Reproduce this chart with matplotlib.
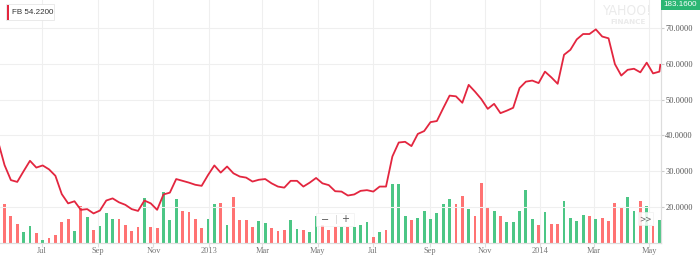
import numpy as np
import pandas as pd
import matplotlib
matplotlib.use('Agg')
import matplotlib.pyplot as plt
from matplotlib.patches import Rectangle

# FB weekly closes, weeks starting Monday 2012-05-14
close = [38.2, 31.7, 27.5, 27.0, 30.0, 32.9, 31.0, 31.6, 30.5, 28.7,
         23.6, 21.0, 21.6, 19.2, 19.4, 18.2, 19.0, 21.8, 22.4, 21.3,
         20.6, 19.4, 18.9, 21.8, 21.0, 19.2, 23.5, 24.0, 27.8, 27.3,
         26.8, 26.2, 25.9, 28.9, 31.6, 29.6, 31.3, 29.4, 28.5, 28.2,
         27.1, 27.6, 27.8, 26.6, 25.7, 25.4, 27.3, 27.3, 25.7, 26.8,
         28.1, 26.6, 26.1, 24.4, 24.3, 23.2, 23.5, 24.5, 24.7, 24.3,
         25.7, 25.7, 34.1, 38.0, 38.2, 37.0, 40.4, 41.2, 43.7, 44.0,
         47.6, 51.1, 50.9, 49.1, 54.1, 52.2, 50.1, 47.4, 48.8, 46.2,
         46.9, 47.7, 53.2, 55.0, 55.3, 54.6, 57.8, 56.2, 54.4, 62.5,
         63.9, 66.8, 68.3, 68.3, 69.6, 67.6, 67.1, 59.9, 56.7, 58.3,
         58.6, 57.6, 60.3, 57.3, 57.8]
first_week = '2012-05-14'
last_date = '2014-05-13'
last_close = 59.7

# weekly volume (millions), from the second week on
volume = [394, 267, 187, 107, 167, 100, 33, 53, 83, 207,
          240, 117, 367, 257, 133, 167, 303, 243, 237, 180,
          123, 157, 453, 157, 153, 510, 230, 437, 320, 313,
          243, 147, 240, 387, 403, 180, 458, 235, 227, 157,
          224, 204, 147, 124, 130, 234, 140, 130, 107, 267,
          180, 134, 160, 160, 160, 160, 177, 207, 60, 110,
          127, 594, 587, 274, 227, 247, 324, 237, 297, 387,
          440, 387, 467, 344, 267, 600, 360, 317, 267, 207,
          207, 317, 527, 237, 177, 310, 194, 194, 417, 254,
          217, 284, 267, 237, 250, 220, 397, 357, 460, 324,
          417, 367, 170, 227]
vol_dir = ("rrrggrgrrr" "rgrgrgggrr" "rrgrrgggrr" "rrggrgrrrr" "ggrrrggrgg"
           "rrrgrgggrg" "rgggrggggg" "grrgrrrgrg" "ggggrgrrgg" "ggrgrrrrgg" "rgrg")

tick_dates = ['2012-05-01', '2012-07-01', '2012-09-01', '2012-11-01', '2013-01-01',
              '2013-03-01', '2013-05-01', '2013-07-01', '2013-09-01', '2013-11-01',
              '2014-01-01', '2014-03-01', '2014-05-01']
tick_labels = ['May', 'Jul', 'Sep', 'Nov', '2013', 'Mar', 'May', 'Jul', 'Sep', 'Nov',
               '2014', 'Mar', 'May']
price_ticks = [20, 30, 40, 50, 60, 70]

weeks = pd.date_range(first_week, periods=len(close), freq='W-MON')
line_x = list(weeks) + [pd.Timestamp(last_date)]
line_y = close + [last_close]
vol_x = weeks[1:]

W, H = 700, 257
fig = plt.figure(figsize=(W / 100, H / 100), dpi=100)
ax2 = fig.add_axes([0, 14 / H, 661 / W, 243 / H])
ax = ax2.twinx()
ax2.set_zorder(1)
ax.set_zorder(2)

red_bar = '#ff7373'
green_bar = '#4cc685'
cols = [green_bar if c == 'g' else red_bar for c in vol_dir]
ax2.bar(vol_x, volume, width=3.1, color=cols, zorder=2)
ax2.set_ylim(0, 2430)
ax2.set_yticks([])

ax.plot(line_x, line_y, color='#e3263f', lw=1.3, zorder=3)
ax.set_ylim(9.94, 77.8)
ax.set_yticks(price_ticks)
ax.set_yticklabels([f'{v:.4f}' for v in price_ticks], family='Liberation Serif',
                   fontsize=6, color='#555555')
ax.tick_params(axis='y', length=2, color='#cccccc', pad=1)
ax.grid(axis='y', color='#efefef', lw=0.8)

x0 = pd.Timestamp('2012-05-16 00:00')
x1 = pd.Timestamp('2014-05-13 18:00')
ax2.set_xlim(x0, x1)
ax.set_xlim(x0, x1)
td = pd.to_datetime(tick_dates)
inside = [d for d in td if x0 <= d <= x1]
ax2.set_xticks(inside)
ax2.set_xticklabels([''] * len(inside))
ax2.tick_params(axis='x', length=3, color='#dddddd')
ax2.grid(axis='x', color='#efefef', lw=0.8, zorder=0)
ax2.set_axisbelow(True)
for d, lab in zip(td, tick_labels):
    ax2.text(d, -0.033, lab, transform=ax2.get_xaxis_transform(), ha='center', va='center',
             family='Liberation Serif', fontsize=6, color='#777777', clip_on=False)

for a in (ax, ax2):
    for s in ('top', 'left'):
        a.spines[s].set_visible(False)
    a.spines['bottom'].set_color('#dddddd')
    a.spines['right'].set_color('#dddddd')
    a.patch.set_visible(False)


def px_rect(x, y, w, h, **kw):
    fig.add_artist(Rectangle((x / W, 1 - (y + h) / H), w / W, h / H,
                             transform=fig.transFigure, zorder=10, **kw))


def px_text(x, y, s, **kw):
    fig.text(x / W, 1 - y / H, s, zorder=11, **kw)


# legend box
px_rect(5.5, 4.5, 48, 16, facecolor='white', edgecolor='#e6e6e6', lw=0.6)
px_rect(6.5, 5.5, 2.2, 14, facecolor='#e3263f', edgecolor='none')
px_text(12.5, 12.5, 'FB 54.2200', family='Liberation Sans', fontsize=5.8,
        color='#333333', va='center', ha='left')

# current value tag
px_rect(661, 0, 40, 10, facecolor='#2bb673', edgecolor='none')
px_text(663, 5, '183.1600', family='Liberation Sans', fontsize=5.8,
        color='white', va='center', ha='left')

# watermark
px_text(628, 11, 'YAHOO!', family='DejaVu Sans', fontsize=10, color='#ebebeb',
        va='center', ha='center', fontstretch='condensed')
px_text(628, 22, 'FINANCE', family='DejaVu Sans', fontsize=5.2, color='#ebebeb',
        va='center', ha='center', fontweight='bold')

# zoom controls
px_rect(316, 213, 38, 13, facecolor='white', edgecolor='#eeeeee', lw=0.5, alpha=0.85)
px_text(325.5, 219.5, '\u2212', fontsize=7, color='#555555', va='center', ha='center')
px_text(345, 219.5, '+', fontsize=7, color='#555555', va='center', ha='center')
px_rect(336, 215, 0.6, 9, facecolor='#dddddd', edgecolor='none')
px_rect(638, 212, 15, 13, facecolor='white', edgecolor='#eeeeee', lw=0.5, alpha=0.85)
px_text(645.5, 218.5, '>>', fontsize=5.5, color='#666666', va='center', ha='center')

fig.savefig('out.png', dpi=100)
